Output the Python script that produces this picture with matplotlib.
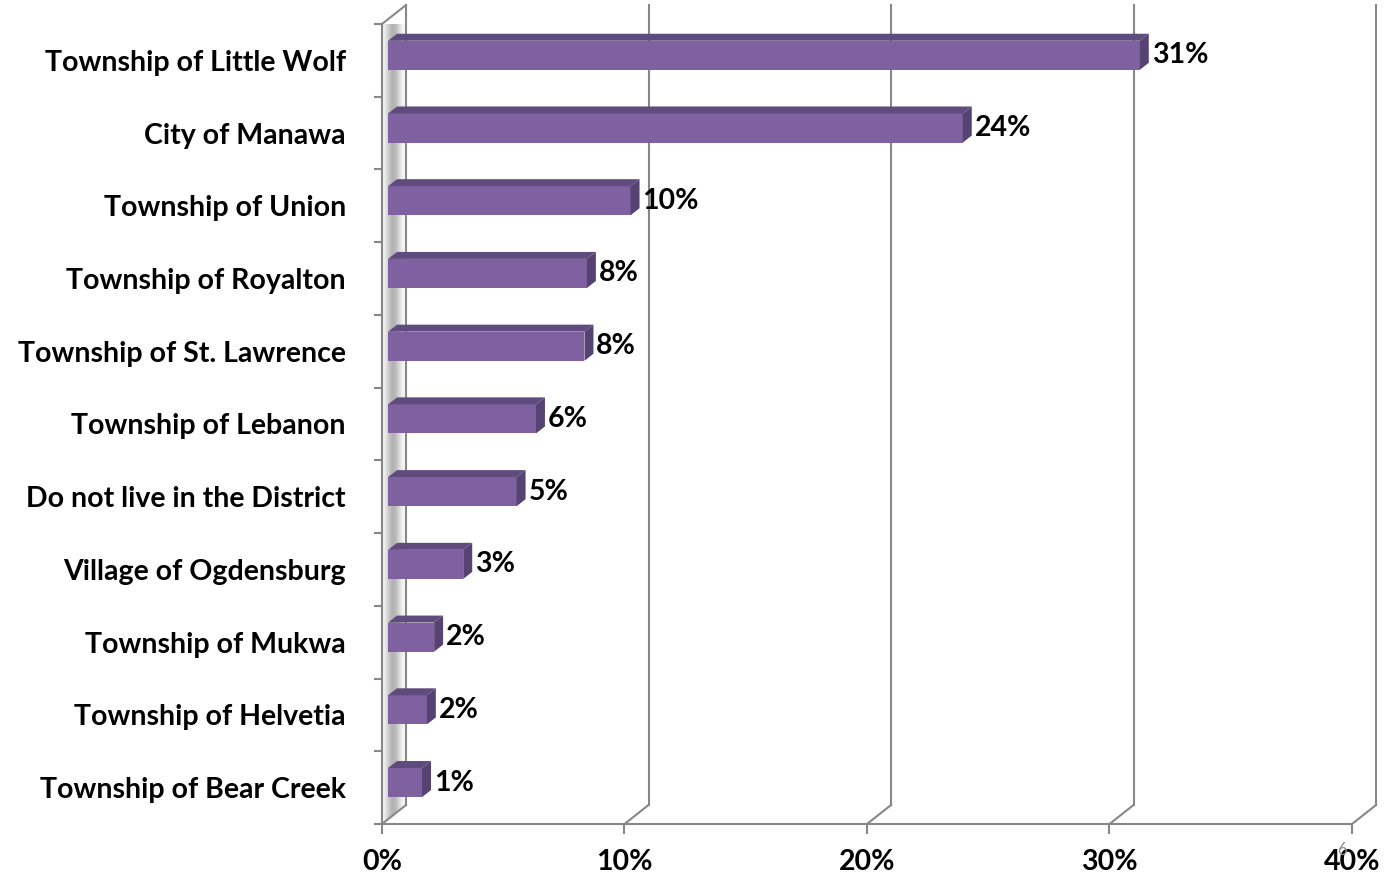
import numpy as np
import matplotlib
matplotlib.use('Agg')
import matplotlib.pyplot as plt
from matplotlib.patches import Polygon, Rectangle

plt.rcParams['font.family'] = ['Lato', 'DejaVu Sans']

# 数据
places = ['Township of Little Wolf', 'City of Manawa', 'Township of Union',
          'Township of Royalton', 'Township of St. Lawrence', 'Township of Lebanon',
          'Do not live in the District', 'Village of Ogdensburg', 'Township of Mukwa',
          'Township of Helvetia', 'Township of Bear Creek']
shares = [31.0, 23.7, 10.0, 8.2, 8.1, 6.1, 5.3, 3.1, 1.9, 1.6, 1.4]
x_ticks = [0, 10, 20, 30, 40]
x_tick_labels = ['0%', '10%', '20%', '30%', '40%']

# 3D 效果参数 (数据单位)
DX, DY = 0.99, 0.261          # 背墙偏移
BX, BY = 0.25, 0.07           # 柱子正面偏移
TX, TY = 0.37, 0.096          # 柱子厚度
BAR_H = 0.40
FS = 20.5
grid_c = '#878787'
front_c, top_c, side_c = '#7F61A1', '#5F4B7D', '#574373'

fig = plt.figure(figsize=(13.85, 8.77), dpi=100)
ax = fig.add_axes([382 / 1385, 53 / 877, 970 / 1385, 800 / 877])
n = len(places)
ax.set_xlim(0, 40)
ax.set_ylim(-0.5, n - 0.5)
pos = np.arange(n)[::-1]

# 侧墙渐变
wall = Polygon([(0, -0.5), (DX, -0.5 + DY), (DX, n - 0.5 + DY), (0, n - 0.5)],
               closed=True, facecolor='none', edgecolor='none')
ax.add_patch(wall)
gx = np.linspace(0, 1, 60)
shade = 1 - 0.30 * np.exp(-((gx - 0.45) / 0.3) ** 2)
img = ax.imshow(shade[None, :], cmap='gray', vmin=0, vmax=1, aspect='auto',
                extent=(0, DX, -0.5, n - 0.5 + DY), zorder=1)
img.set_clip_path(wall)
ax.plot([0, DX], [n - 0.5, n - 0.5 + DY], color=grid_c, lw=1.5, clip_on=False, zorder=2)

# 背墙网格线和地面斜线
for t in x_ticks:
    ax.plot([t + DX, t + DX], [-0.5 + DY, n - 0.5 + DY], color=grid_c, lw=1.5,
            clip_on=False, zorder=2)
    ax.plot([t, t + DX], [-0.5, -0.5 + DY], color=grid_c, lw=1.5, clip_on=False, zorder=2)

# 柱子
for p, v in zip(pos, shares):
    y0 = p + BY - BAR_H / 2
    y1 = p + BY + BAR_H / 2
    ax.add_patch(Rectangle((BX, y0), v, BAR_H, facecolor=front_c, edgecolor='none',
                           zorder=4, clip_on=False))
    ax.add_patch(Polygon([(BX, y1), (BX + v, y1), (BX + v + TX, y1 + TY), (BX + TX, y1 + TY)],
                         closed=True, facecolor=top_c, edgecolor='none', zorder=4, clip_on=False))
    ax.add_patch(Polygon([(BX + v, y0), (BX + v + TX, y0 + TY), (BX + v + TX, y1 + TY), (BX + v, y1)],
                         closed=True, facecolor=side_c, edgecolor='none', zorder=4, clip_on=False))
    ax.text(BX + v + TX + 0.12, p + BY, f'{v:.0f}%', ha='left', va='center',
            fontsize=FS, fontweight='bold', color='black', zorder=5)

# 坐标轴
for s in ['top', 'right']:
    ax.spines[s].set_visible(False)
for s in ['left', 'bottom']:
    ax.spines[s].set_color(grid_c)
    ax.spines[s].set_linewidth(1.5)
    ax.spines[s].set_zorder(3)

ax.set_xticks(x_ticks)
ax.set_xticklabels(x_tick_labels, fontsize=FS, fontweight='bold')
ax.tick_params(axis='x', length=7, width=1.5, color=grid_c, pad=11)

ax.set_yticks(pos)
ax.set_yticklabels(places, fontsize=FS, fontweight='bold')
ax.set_yticks(np.arange(-0.5, n), minor=True)
ax.tick_params(axis='y', which='major', length=0, pad=26)
ax.tick_params(axis='y', which='minor', length=6, width=1.5, color=grid_c)
ax.patch.set_alpha(0)

fig.text(1342 / 1385, 1 - 850 / 877, '6', fontsize=12, color='#8C8C8C', ha='center', va='center')

fig.savefig('out.png', dpi=100)
